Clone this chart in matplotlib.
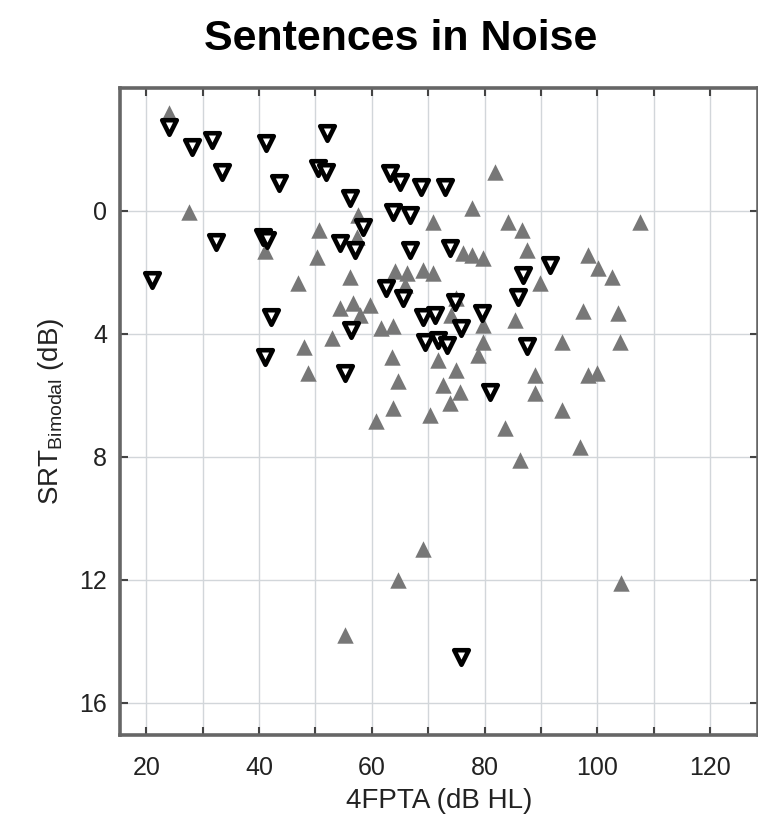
import matplotlib
matplotlib.use("Agg")
import matplotlib.pyplot as plt
import numpy as np

plt.rcParams['font.family'] = ['Liberation Sans', 'DejaVu Sans']
plt.rcParams['mathtext.default'] = 'regular'

# bimodal listeners, gray up triangles
up_x = [24.1, 27.5, 41.0, 50.6, 50.2, 57.6, 57.3, 56.1, 81.8, 70.9, 77.7, 84.2,
        86.6, 87.5, 76.2, 77.7, 79.8, 64.1, 66.2, 69.1, 70.9, 107.6, 98.4, 100.2,
        102.6, 89.8, 97.5, 103.7, 93.7, 104.0, 88.9, 98.4, 99.9, 88.9, 93.7, 96.9,
        86.3, 46.9, 47.9, 48.7, 53.0, 54.3, 56.7, 59.6, 57.9, 61.7, 63.8, 65.9,
        75.0, 74.1, 85.4, 79.8, 79.8, 78.9, 71.8, 63.5, 75.0, 64.7, 72.7, 75.6,
        73.8, 63.8, 60.8, 70.3, 83.6, 69.0, 64.6, 55.2, 104.2]
up_y = [-3.18, 0.02, 1.32, 0.62, 1.49, 0.13, 0.84, 2.14, -1.28, 0.35, -0.09, 0.35,
        0.62, 1.27, 1.38, 1.43, 1.54, 1.97, 2.03, 1.92, 2.03, 0.35, 1.43, 1.86,
        2.14, 2.35, 3.27, 3.33, 4.25, 4.25, 5.33, 5.33, 5.28, 5.93, 6.47, 7.67,
        8.10, 2.35, 4.43, 5.28, 4.15, 3.16, 3.00, 3.06, 3.38, 3.81, 3.76, 2.41,
        2.84, 3.38, 3.54, 3.71, 4.25, 4.68, 4.85, 4.74, 5.17, 5.55, 5.66, 5.88,
        6.25, 6.42, 6.85, 6.63, 7.07, 11.0, 12.0, 13.8, 12.1]

# second group, open down triangles
down_x = [24.0, 28.2, 31.7, 41.3, 33.5, 43.5, 52.0, 50.4, 51.8, 56.1, 58.5, 54.3,
          57.0, 63.2, 65.0, 68.8, 73.0, 63.8, 66.7, 66.7, 73.8, 32.4, 40.7, 41.5,
          21.1, 42.2, 41.0, 86.9, 91.6, 86.0, 87.5, 62.6, 65.6, 74.7, 79.5, 69.1,
          71.2, 75.9, 69.4, 71.8, 73.3, 56.4, 55.2, 81.0, 75.8]
down_y = [-2.74, -2.09, -2.31, -2.20, -1.28, -0.90, -2.53, -1.40, -1.27, -0.41, 0.51, 1.05,
          1.27, -1.23, -0.95, -0.79, -0.79, 0.02, 0.13, 1.27, 1.21, 1.00, 0.84, 0.95,
          2.24, 3.44, 4.74, 2.08, 1.76, 2.80, 4.41, 2.51, 2.84, 2.95, 3.33, 3.44,
          3.38, 3.81, 4.25, 4.20, 4.36, 3.87, 5.28, 5.88, 14.5]

x_ticks = [20, 30, 40, 50, 60, 70, 80, 90, 100, 110, 120]
x_labels = ['20', '', '40', '', '60', '', '80', '', '100', '', '120']
y_ticks = [0, 4, 8, 12, 16]

fig = plt.figure(figsize=(7.58, 8.19), dpi=100)
ax = fig.add_axes([0.158, 0.1026, 0.842, 0.79])

ax.scatter(up_x, up_y, marker='^', s=140, color='#777777', linewidths=0, zorder=3)
ax.scatter(down_x, down_y, marker='v', s=110, facecolor='white', edgecolor='black',
           linewidths=3.3, zorder=4)

ax.set_xlim(15.3, 128.5)
ax.set_ylim(17.05, -4.0)
ax.set_xticks(x_ticks)
ax.set_xticklabels(x_labels)
ax.set_yticks(y_ticks)
ax.grid(True, color='#d2d6da', linewidth=1.0, zorder=0)
ax.set_axisbelow(True)

ax.tick_params(direction='in', length=6, width=1.5, colors='#444444',
               labelcolor='#222222', labelsize=18, top=True, right=True)
ax.tick_params(axis='x', pad=15)
ax.tick_params(axis='y', pad=9)
for sp in ax.spines.values():
    sp.set_color('#666666')
    sp.set_linewidth(2.6)

ax.set_xlabel('4FPTA (dB HL)', fontsize=20, color='#222222', labelpad=6)
ax.set_ylabel('SRT$_{Bimodal}$ (dB)', fontsize=20, color='#222222', labelpad=10)
fig.text(0.528, 0.939, 'Sentences in Noise', fontsize=31, fontweight='bold',
         ha='center', va='baseline')

fig.savefig('out.png', dpi=100)
